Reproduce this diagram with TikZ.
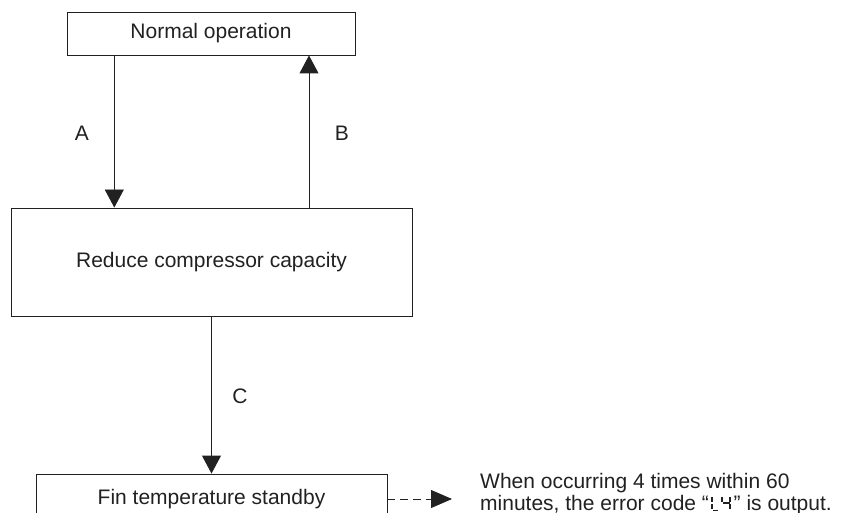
\documentclass[tikz,border=0pt]{standalone}
\usepackage{fontspec}
\setmainfont{Liberation Sans}
\usetikzlibrary{arrows.meta,calc}
\definecolor{ink}{gray}{0.13}
\newcommand{\segLfour}{\tikz[x=1em,y=1em,baseline=0pt,line width=0.09em,ink]{%
  \path (0,0) rectangle (1.18,0.7);%
  \draw (0.14,0.40)--(0.14,0.66); \draw (0.14,0.05)--(0.14,0.31); \draw (0.18,0.0)--(0.44,0.0);%
  \draw (0.64,0.40)--(0.64,0.66); \draw (0.68,0.355)--(0.98,0.355); \draw (1.02,0.40)--(1.02,0.66); \draw (1.02,0.05)--(1.02,0.31);}}
\tikzset{
  box/.style={draw=ink, line width=0.9pt, inner sep=0pt, font=\fontsize{21}{22}\selectfont, text=ink},
  lbl/.style={inner sep=0pt, font=\fontsize{21}{22}\selectfont, text=ink},
  conn/.style={draw=ink, line width=0.9pt, -{Triangle[length=18pt,width=19pt]}},
  dconn/.style={draw=ink, line width=0.9pt, dash pattern=on 8pt off 5pt, -{Triangle[length=21pt,width=18pt]}}
}
\begin{document}
\begin{tikzpicture}[x=1pt,y=-1pt]
\useasboundingbox (0,0) rectangle (841,513);
\clip (0,0) rectangle (841,513);
\node[box, minimum width=288pt, minimum height=43pt] (normal) at (211,33.5) {Normal operation};
\node[box, minimum width=401pt, minimum height=108pt] (reduce) at (211.5,262) {Reduce compressor capacity};
\node[box, minimum width=351pt, minimum height=50pt] (fin) at (211.5,499) {\raisebox{1.5pt}{Fin temperature standby}};
\coordinate (xa) at (114.3,0);
\coordinate (xb) at (309,0);
\coordinate (tip) at (452,499);
\draw[conn] (normal.south -| xa) -- (reduce.north -| xa);
\draw[conn] (reduce.north -| xb) -- (normal.south -| xb);
\draw[conn] (reduce.south) -- (fin.north);
\draw[dconn] (fin.east) -- (tip);
\node[lbl] (la) at (82,133) {A};
\node[lbl] (lb) at (342,133) {B};
\node[lbl] (lc) at (240,396) {C};
\node[lbl, anchor=base west, align=left] (note) at (480,510.5) {When occurring 4 times within 60\\minutes, the error code “\segLfour” is output.};
\end{tikzpicture}
\end{document}
